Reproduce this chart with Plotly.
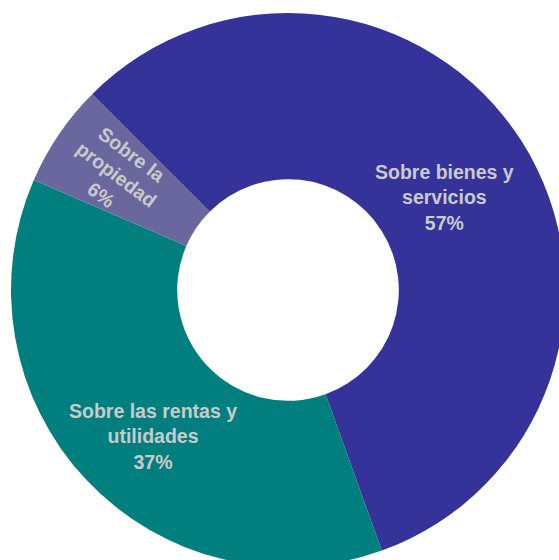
import plotly.graph_objects as go

categories = ["Sobre bienes y servicios", "Sobre las rentas y utilidades", "Sobre la propiedad"]
label_lines = ["Sobre bienes y<br>servicios", "Sobre las rentas y<br>utilidades", "Sobre la<br>propiedad"]
values = [57, 37, 6]
colors = ["#35339A", "#007F7E", "#6A679E"]

W, H = 600, 600
cx, cy, R = 288, 290, 277

fig = go.Figure(go.Pie(
    labels=categories,
    values=values,
    sort=False,
    direction="clockwise",
    rotation=-45,
    hole=0.40,
    marker=dict(colors=colors, line=dict(width=0)),
    textinfo="none",
    hoverinfo="label+percent",
    showlegend=False,
    domain=dict(x=[(cx - R) / W, (cx + R) / W], y=[(H - cy - R) / H, (H - cy + R) / H]),
))

# label anchor positions (pixels) and rotation
label_pos = [(444, 198, 0), (153, 437, 0), (116, 175, 37)]
for txt, v, (px, py, ang) in zip(label_lines, values, label_pos):
    fig.add_annotation(
        x=px / W, y=(H - py) / H, xref="paper", yref="paper",
        text=f"{txt}<br>{v}%", showarrow=False, textangle=ang,
        xanchor="center", yanchor="middle", align="center",
        font=dict(family="Liberation Sans, Arial, sans-serif", size=19.5, color="#CACACA", weight="bold"),
    )

fig.update_layout(
    width=W, height=H,
    margin=dict(l=0, r=0, t=0, b=0),
    paper_bgcolor="white", plot_bgcolor="white",
)

fig.write_html(
    "out.html",
    config={"displayModeBar": False},
    post_script="document.body.style.margin='0';document.body.style.overflow='hidden';",
)
